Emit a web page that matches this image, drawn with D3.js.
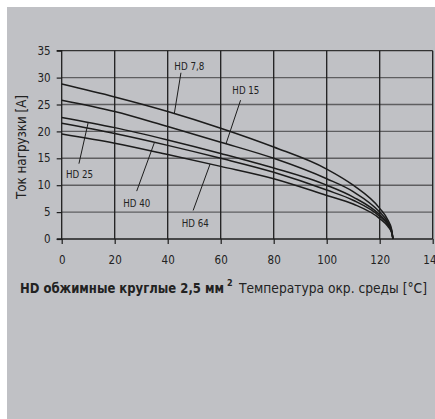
<!DOCTYPE html>
<html><head><meta charset="utf-8">
<script src="https://cdn.jsdelivr.net/npm/d3@7"></script>
<style>
html,body{margin:0;padding:0;background:#fff;}
svg{display:block;}
text{font-family:"DejaVu Sans Condensed","Liberation Sans Narrow","Liberation Sans",sans-serif;fill:#222;}
</style></head><body>
<svg id="c" width="435" height="419"></svg>
<script>
// Data
const temps = [0, 20, 40, 60, 80, 100, 110, 120, 123, 124.5, 125];
const hd78  = [28.8, 26.4, 23.7, 20.6, 17.1, 13.0, 10.0, 5.7, 3.6, 1.8, 0];
const hd15  = [25.8, 23.7, 20.9, 18.0, 15.0, 11.2, 8.8, 5.0, 3.2, 1.6, 0];
const hd25  = [22.6, 20.7, 18.4, 15.9, 13.2, 10.0, 7.8, 4.5, 2.9, 1.4, 0];
const hd40  = [21.5, 19.6, 17.4, 15.0, 12.4, 9.1, 7.2, 4.2, 2.7, 1.3, 0];
const hd64  = [19.5, 17.8, 15.7, 13.5, 11.2, 8.1, 6.5, 3.8, 2.4, 1.2, 0];
const seriesNames = ["HD 7,8", "HD 15", "HD 25", "HD 40", "HD 64"];
const xTicks = [0, 20, 40, 60, 80, 100, 120, 140];
const yTicks = [0, 5, 10, 15, 20, 25, 30, 35];
const yTitle = "Ток нагрузки [А]";
const captionBold = "HD обжимные круглые 2,5 мм";
const captionRest = "Температура окр. среды [°C]";
// label anchor points on curves (temperature) and label positions (data units)
const labelTemp = [42.5, 62, 10, 35, 56];
const labelPos = [[42.5, 31.4], [64.4, 26.9], [1.6, 11.3], [23.2, 6.0], [45.3, 2.2]];
const labelFrom = [[45, 30.9], [67.5, 25.8], [6.5, 14.0], [28.3, 8.9], [49.6, 5.3]];
const labelWidth = [30, 27, 27, 27, 27];

const svg = d3.select("#c");
svg.append("rect").attr("x", 7).attr("y", 7).attr("width", 428).attr("height", 412).attr("fill", "#c0c1c5");

const x = d3.scaleLinear().domain([0, 140]).range([61.7, 432.7]);
const y = d3.scaleLinear().domain([0, 35]).range([239, 50.7]);

// horizontal grid
svg.append("g").selectAll("line").data(yTicks.filter(d => d > 0 && d < 35)).join("line")
  .attr("x1", x(0)).attr("x2", x(140)).attr("y1", d => y(d)).attr("y2", d => y(d))
  .attr("stroke", "#5e5e60").attr("stroke-width", 1.4);
// top border
svg.append("line").attr("x1", x(0)).attr("x2", x(140)).attr("y1", y(35)).attr("y2", y(35))
  .attr("stroke", "#333").attr("stroke-width", 1.3);
// vertical grid
svg.append("g").selectAll("line").data(xTicks.filter(d => d > 0)).join("line")
  .attr("x1", d => x(d)).attr("x2", d => x(d)).attr("y1", y(35)).attr("y2", y(0))
  .attr("stroke", "#1e1e1e").attr("stroke-width", 1.3);

// axes
const xAxis = d3.axisBottom(x).tickValues(xTicks).tickSize(5).tickPadding(9).tickFormat(d3.format("d"));
const yAxis = d3.axisLeft(y).tickValues(yTicks).tickSize(5).tickPadding(6).tickFormat(d3.format("d"));
const gx = svg.append("g").attr("transform", `translate(0,${y(0)})`).call(xAxis);
const gy = svg.append("g").attr("transform", `translate(${x(0)},0)`).call(yAxis);
[gx, gy].forEach(g => {
  g.select(".domain").attr("stroke", "#1e1e1e").attr("stroke-width", 1.3);
  g.selectAll(".tick line").attr("stroke", "#1e1e1e").attr("stroke-width", 1.2);
  g.selectAll(".tick text").attr("fill", "#2a2a2a").style("font-size", "11.5px")
   .style("font-family", '"DejaVu Sans Condensed","Liberation Sans Narrow",sans-serif');
});
gx.selectAll(".tick text").attr("y", 0).attr("dy", null).attr("transform", "translate(0,25)");
gy.select(".domain").attr("d", `M${-5},${y(35)}H0V${y(0)}H-5`);
gx.select(".domain").attr("d", `M${x(0)},0H${x(140)}`);

// curves
const allSeries = [hd78, hd15, hd25, hd40, hd64];
const lineX = d3.line().x(d => x(d[0])).y(d => y(d[1])).curve(d3.curveMonotoneX);
allSeries.forEach(s => {
  const pts = temps.map((t, i) => [t, s[i]]);
  svg.append("path").attr("d", lineX(pts)).attr("fill", "none")
    .attr("stroke", "#1c1c1c").attr("stroke-width", 1.5);
});

// labels & leaders
seriesNames.forEach((n, i) => {
  const s = allSeries[i];
  const t = labelTemp[i];
  const v = d3.scaleLinear().domain(temps).range(s)(t);
  svg.append("line").attr("x1", x(labelFrom[i][0])).attr("y1", y(labelFrom[i][1]))
    .attr("x2", x(t)).attr("y2", y(v)).attr("stroke", "#1c1c1c").attr("stroke-width", 1);
  svg.append("text").attr("x", x(labelPos[i][0])).attr("y", y(labelPos[i][1]))
    .attr("textLength", labelWidth[i]).attr("lengthAdjust", "spacingAndGlyphs")
    .style("font-size", "11px").text(n);
});

// y title
svg.append("text").attr("transform", `translate(25.5,147) rotate(-90) scale(1,1.15)`).attr("text-anchor", "middle")
  .attr("textLength", 104).attr("lengthAdjust", "spacingAndGlyphs")
  .style("font-size", "13px").text(yTitle);

// caption
const cap = svg.append("g");
cap.append("text").attr("transform", "translate(20,293) scale(1,1.18)")
  .style("font-size", "12.5px").style("font-weight", "bold")
  .attr("textLength", 204).attr("lengthAdjust", "spacingAndGlyphs").text(captionBold);
cap.append("text").attr("x", 227).attr("y", 286).style("font-size", "9px").style("font-weight", "bold").text("2");
cap.append("text").attr("transform", "translate(239,293) scale(1,1.18)")
  .style("font-size", "12.5px")
  .attr("textLength", 188).attr("lengthAdjust", "spacingAndGlyphs").text(captionRest);
</script>
</body></html>
